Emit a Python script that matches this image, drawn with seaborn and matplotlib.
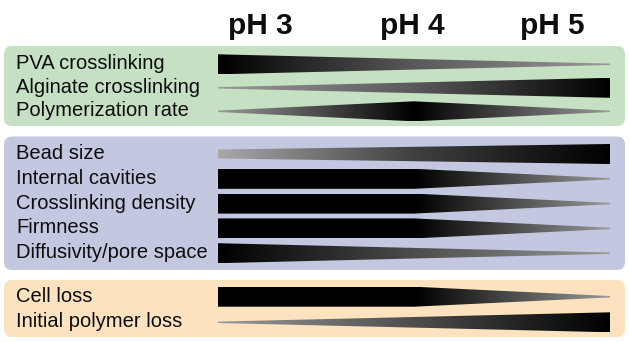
import matplotlib
matplotlib.use("Agg")
import matplotlib.pyplot as plt
from matplotlib.patches import FancyBboxPatch
import numpy as np
import seaborn as sns

sns.set_theme(style="white")
plt.rcParams["font.family"] = ["Liberation Sans", "DejaVu Sans"]

# data: relative bar thickness and grey level (0 = black) at pH 3, 4, 5
ph_levels = [3, 4, 5]
ph_labels = ["pH 3", "pH 4", "pH 5"]

green_labels = ["PVA crosslinking", "Alginate crosslinking", "Polymerization rate"]
green_width = [[1.0, 0.53, 0.07], [0.07, 0.53, 1.0], [0.07, 1.0, 0.07]]
green_shade = [[0.0, 0.35, 0.6], [0.6, 0.35, 0.0], [0.6, 0.0, 0.6]]

blue_labels = ["Bead size", "Internal cavities", "Crosslinking density",
               "Firmness", "Diffusivity/pore space"]
blue_width = [[0.45, 0.72, 1.0], [1.0, 1.0, 0.07], [1.0, 1.0, 0.07],
              [1.0, 1.0, 0.07], [1.0, 0.53, 0.07]]
blue_shade = [[0.66, 0.25, 0.0], [0.0, 0.0, 0.6], [0.0, 0.0, 0.6],
              [0.0, 0.0, 0.6], [0.0, 0.3, 0.6]]

orange_labels = ["Cell loss", "Initial polymer loss"]
orange_width = [[1.0, 1.0, 0.07], [0.07, 0.53, 1.0]]
orange_shade = [[0.0, 0.0, 0.6], [0.6, 0.3, 0.0]]

# layout (pixels)
W, H = 629, 342
bar_h = 20
px_per_ph = 196
x0_px = 218
panels = [
    (green_labels, green_width, green_shade, "#c6e0c4", 46, 126, 64.3, 23.5),
    (blue_labels, blue_width, blue_shade, "#c3c8e0", 136.5, 270, 154, 24.8),
    (orange_labels, orange_width, orange_shade, "#fde2bf", 280, 337, 296.7, 25.6),
]
header_x = [260, 412, 552]

fig = plt.figure(figsize=(W / 100, H / 100), dpi=100)
fig.patch.set_facecolor("white")
bg = fig.add_axes([0, 0, 1, 1])
bg.set_xlim(0, W)
bg.set_ylim(H, 0)
bg.axis("off")

ax = fig.add_axes([0, 0, 1, 1])
ax.axis("off")
ax.patch.set_alpha(0)

grey = sns.blend_palette(["#000000", "#ffffff"], as_cmap=True)
xs = np.linspace(ph_levels[0], ph_levels[-1], 400)

for labels, widths, shades, color, top, bottom, y_first, step in panels:
    bg.add_patch(FancyBboxPatch((4, top), W - 8, bottom - top,
                                boxstyle="round,pad=0,rounding_size=8",
                                fc=color, ec="none"))
    for i, (lab, wd, sh) in enumerate(zip(labels, widths, shades)):
        y = y_first + i * step
        bg.text(16, y + 5, lab, fontsize=14.5, va="baseline", ha="left",
                color="#0d0d0d")
        half = np.array(wd) * bar_h / 2
        poly = ax.fill_between(ph_levels, y - half, y + half,
                               facecolor="none", edgecolor="none")
        g = np.interp(xs, ph_levels, sh)[None, :]
        im = ax.imshow(g, extent=(ph_levels[0], ph_levels[-1], y + bar_h / 2, y - bar_h / 2),
                       cmap=grey, vmin=0, vmax=1, aspect="auto",
                       interpolation="bilinear")
        im.set_clip_path(poly.get_paths()[0], ax.transData)

ax.set_xlim(3 - x0_px / px_per_ph, 3 + (W - x0_px) / px_per_ph)
ax.set_ylim(H, 0)

for x, lab in zip(header_x, ph_labels):
    bg.text(x, 34.5, lab, fontsize=21.5, fontweight="bold", ha="center",
            va="baseline", color="#0d0d0d")

fig.savefig("out.png", dpi=100)
